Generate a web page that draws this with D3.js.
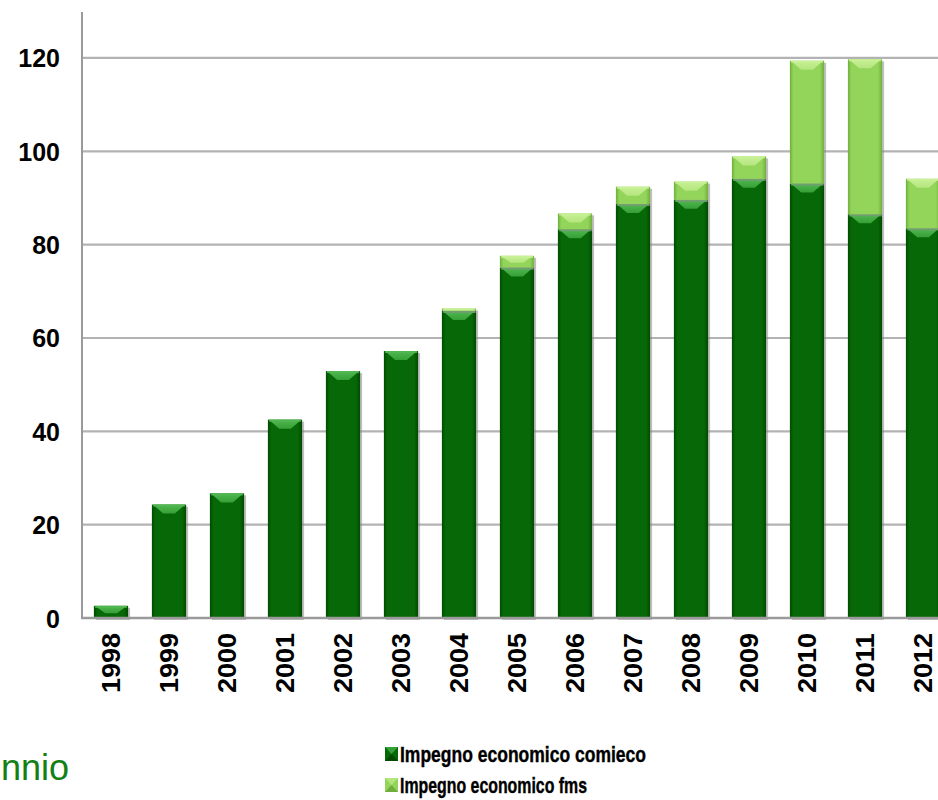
<!DOCTYPE html>
<html>
<head>
<meta charset="utf-8">
<script src="https://cdn.jsdelivr.net/npm/d3@7/dist/d3.min.js"></script>
<style>
  html, body { margin: 0; padding: 0; background: #fff; }
  svg { display: block; }
</style>
</head>
<body>
<svg id="chart" width="938" height="800"></svg>
<script>
// Yearly contributions (stacked): comieco share and fms share
const years = ["1998","1999","2000","2001","2002","2003","2004","2005","2006","2007","2008","2009","2010","2011","2012"];
const comieco = [2.6, 24.3, 26.7, 42.5, 52.9, 57.2, 65.8, 75.1, 83.3, 88.7, 89.6, 94.1, 93.1, 86.5, 83.5];
const fms     = [0, 0, 0, 0, 0, 0, 0.5, 2.5, 3.4, 3.7, 3.9, 4.8, 26.3, 33.2, 10.6];
const yTicks  = [0, 20, 40, 60, 80, 100, 120];
const seriesNames = ["Impegno economico comieco", "Impegno economico fms"];

const svg = d3.select("#chart");
const defs = svg.append("defs");

const x = d3.scaleBand().domain(years).range([82, 952]).paddingInner(0.41).paddingOuter(0.205);
const y = d3.scaleLinear().domain([0, 130]).range([618, 11.3]);

const palette = [
  { base: "#066806", edge: "#024a02", bevel: "#35a035", bevelLight: "#52b852" },
  { base: "#93d45a", edge: "#6fae3c", bevel: "#b4e67e", bevelLight: "#c8f096" }
];

palette.forEach((p, i) => {
  const g = defs.append("linearGradient").attr("id", "body" + i)
    .attr("x1", "0").attr("x2", "1").attr("y1", "0").attr("y2", "0");
  g.append("stop").attr("offset", "0").attr("stop-color", p.edge);
  g.append("stop").attr("offset", "0.1").attr("stop-color", p.base);
  g.append("stop").attr("offset", "0.88").attr("stop-color", p.base);
  g.append("stop").attr("offset", "1").attr("stop-color", p.edge);
  const b = defs.append("linearGradient").attr("id", "bevel" + i)
    .attr("x1", "0").attr("x2", "0").attr("y1", "0").attr("y2", "1");
  b.append("stop").attr("offset", "0").attr("stop-color", p.bevelLight);
  b.append("stop").attr("offset", "1").attr("stop-color", p.bevel);
});

// gridlines
svg.append("g").selectAll("line")
  .data(yTicks.filter(d => d > 0))
  .join("line")
  .attr("x1", 82).attr("x2", 938)
  .attr("y1", d => y(d)).attr("y2", d => y(d))
  .attr("stroke", "#b3b3b3").attr("stroke-width", 2.2);

// stacked data
const rows = years.map((yr, i) => ({ year: yr, comieco: comieco[i], fms: fms[i] }));
const stacked = d3.stack().keys(["comieco", "fms"])(rows);

const bars = svg.append("g");
stacked.forEach((layer, si) => {
  const p = palette[si];
  layer.forEach(seg => {
    const v0 = seg[0], v1 = seg[1];
    if (v1 - v0 <= 0) return;
    const x0 = x(seg.data.year), w = x.bandwidth();
    const yt = y(v1), yb = y(v0), h = yb - yt;
    const g = bars.append("g");
    // soft shadow on the right
    g.append("rect").attr("x", x0 + 2).attr("y", yt + 2).attr("width", w).attr("height", h)
      .attr("fill", "#8a8a8a").attr("opacity", 0.55);
    g.append("rect").attr("x", x0).attr("y", yt).attr("width", w).attr("height", h)
      .attr("fill", `url(#body${si})`);
    // top bevel
    const bh = Math.min(9, h * 0.6);
    const inset = Math.min(w * 0.3, bh * 1.4);
    g.append("polygon")
      .attr("points", [
        [x0 + 1, yt], [x0 + w - 1, yt],
        [x0 + w - 1 - inset, yt + bh], [x0 + 1 + inset, yt + bh]
      ].map(d => d.join(",")).join(" "))
      .attr("fill", `url(#bevel${si})`);
    g.append("rect").attr("x", x0 + 1).attr("y", yt).attr("width", w - 2).attr("height", Math.min(2, h))
      .attr("fill", p.bevelLight).attr("opacity", 0.8);
  });
});

// axes lines
svg.append("line").attr("x1", 82).attr("x2", 82).attr("y1", 12).attr("y2", y(0) + 1)
  .attr("stroke", "#9a9a9a").attr("stroke-width", 2);
svg.append("line").attr("x1", 81).attr("x2", 938).attr("y1", y(0)).attr("y2", y(0))
  .attr("stroke", "#9a9a9a").attr("stroke-width", 2.5);

// y axis labels
const yAxis = d3.axisLeft(y).tickValues(yTicks).tickSize(0).tickPadding(22);
const yg = svg.append("g").attr("transform", "translate(82,0)").call(yAxis);
yg.select(".domain").remove();
yg.selectAll("text")
  .attr("font-family", "Liberation Sans, Arial, sans-serif")
  .attr("font-weight", "bold").attr("font-size", 25).attr("fill", "#000")
  .attr("dy", "0.36em");

// x axis labels, rotated
const xAxis = d3.axisBottom(x).tickSize(0).tickPadding(0);
const xg = svg.append("g").attr("transform", `translate(0,${y(0)})`).call(xAxis);
xg.select(".domain").remove();
xg.selectAll("text")
  .attr("font-family", "Liberation Sans, Arial, sans-serif")
  .attr("font-weight", "bold").attr("font-size", 25).attr("fill", "#000")
  .attr("text-anchor", "end")
  .attr("transform", "rotate(-90)")
  .attr("x", -15).attr("y", 0).attr("dy", "0.36em")
  .attr("textLength", 60).attr("lengthAdjust", "spacingAndGlyphs");

// legend
const legend = svg.append("g");
const legendRows = [
  { name: seriesNames[0], si: 0, y: 747, len: 246 },
  { name: seriesNames[1], si: 1, y: 778, len: 187 }
];
legendRows.forEach(r => {
  const p = palette[r.si];
  legend.append("rect").attr("x", 385).attr("y", r.y).attr("width", 13).attr("height", 14)
    .attr("fill", p.base);
  legend.append("polygon")
    .attr("points", `385,${r.y} 398,${r.y} 391.5,${r.y + 7}`)
    .attr("fill", p.bevel);
  legend.append("polygon")
    .attr("points", `385,${r.y + 14} 398,${r.y + 14} 391.5,${r.y + 7}`)
    .attr("fill", p.edge);
  legend.append("text").attr("x", 400).attr("y", r.y + 15)
    .attr("font-family", "Liberation Sans, Arial, sans-serif")
    .attr("font-weight", "bold").attr("font-size", 22)
    .attr("stroke", "#000").attr("stroke-width", 0.4)
    .attr("textLength", r.len).attr("lengthAdjust", "spacingAndGlyphs")
    .text(r.name);
});

// caption fragment at the lower left
svg.append("text").attr("x", 1).attr("y", 780).attr("text-anchor", "start")
  .attr("font-family", "Liberation Sans, Arial, sans-serif")
  .attr("font-size", 36).attr("fill", "#128012")
  .text("nnio");
</script>
</body>
</html>
